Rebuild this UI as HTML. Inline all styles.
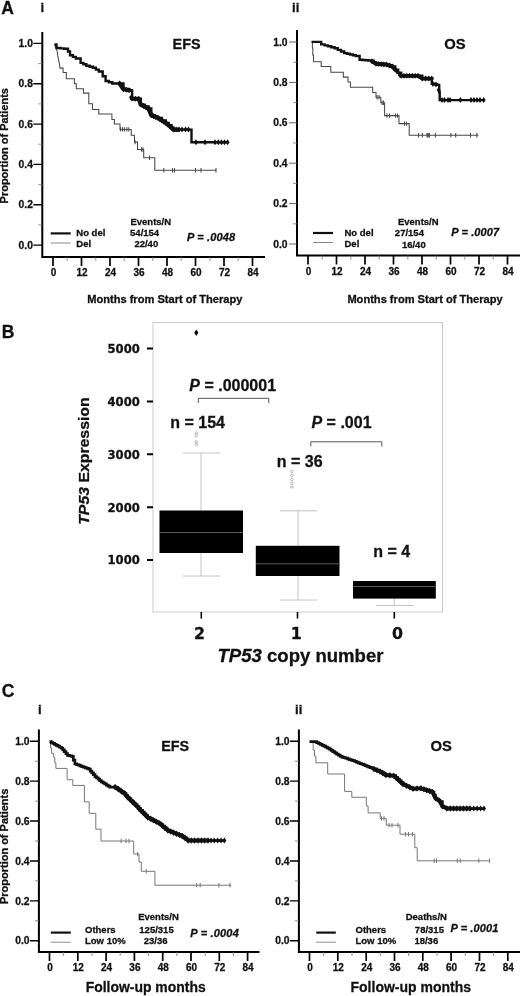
<!DOCTYPE html>
<html lang="en">
<head>
<meta charset="utf-8">
<title>TP53 deletion and expression: survival figure</title>
<style>
html,body{margin:0;padding:0;background:#fff}
body{width:520px;height:996px;overflow:hidden}
svg{display:block}
text{font-family:"Liberation Sans",sans-serif;font-weight:bold;fill:#111;stroke:#111;stroke-width:.28px}
.bk{font-family:"DejaVu Sans","Liberation Sans",sans-serif;font-weight:bold}
.it{font-style:italic}
</style>
</head>
<body>
<svg width="520" height="996" viewBox="0 0 520 996">
<rect width="520" height="996" fill="#fff"/>

<!-- Panel A: TP53 deletion, EFS and OS -->
<text x="1.2" y="13.8" font-size="17.5">A</text>
<text x="40.5" y="12.3" font-size="13.1">i</text>
<text x="292" y="12.3" font-size="13.1">ii</text>
<g>
<path d="M42.3 32V256.9H265" fill="none" stroke="#000" stroke-width="2"/>
<path d="M33.3 43.4H42.3M33.3 83.7H42.3M33.3 124.1H42.3M33.3 164.4H42.3M33.3 204.8H42.3M33.3 245.1H42.3" stroke="#000" stroke-width="1.4"/>
<path d="M38.3 63.6H42.3M38.3 103.9H42.3M38.3 144.2H42.3M38.3 184.6H42.3M38.3 224.9H42.3" stroke="#777" stroke-width="0.8"/>
<path d="M53 256.9V265.9M81.5 256.9V265.9M110 256.9V265.9M138.5 256.9V265.9M167 256.9V265.9M195.5 256.9V265.9M224 256.9V265.9M252.5 256.9V265.9" stroke="#000" stroke-width="1.7"/>
<path d="M67.2 256.9V260.9M95.8 256.9V260.9M124.2 256.9V260.9M152.8 256.9V260.9M181.2 256.9V260.9M209.8 256.9V260.9M238.2 256.9V260.9" stroke="#777" stroke-width="0.8"/>
<g font-size="10.3" text-anchor="end"><text x="32.9" y="47">1.0</text><text x="32.9" y="87.3">0.8</text><text x="32.9" y="127.7">0.6</text><text x="32.9" y="168">0.4</text><text x="32.9" y="208.4">0.2</text><text x="32.9" y="248.7">0.0</text></g>
<g font-size="10" text-anchor="middle"><text x="53.5" y="276">0</text><text x="82" y="276">12</text><text x="110.5" y="276">24</text><text x="139" y="276">36</text><text x="167.5" y="276">48</text><text x="196" y="276">60</text><text x="224.5" y="276">72</text><text x="253" y="276">84</text></g>
<text transform="translate(8.2 203.4) rotate(-90)" font-size="10" textLength="115.3" lengthAdjust="spacingAndGlyphs">Proportion of Patients</text>
<text x="172.6" y="48.8" font-size="14.4">EFS</text>
<path d="M54.4 44.4L55.6 47L56.9 50L58.1 57.5L59.4 63.8L60 68.1H63.1V72.5H66.3V78.8H74.4V83.8H76.3V88.8H83.4V93.1H88.8V103.8H92.5V109.4H98.8V114H111.9V119.4H114.4V124H120V129.4H131.2V135.3H134.5V142.1H137.5V149.5H143.7V157.8H154.8V170.2H216V170.2" fill="none" stroke="#484848" stroke-width="1.05"/>
<path d="M120.6 127.2V131.6M122.5 127.2V131.6M124.4 127.2V131.6M126.9 127.2V131.6M128.8 127.2V131.6M135 139.9V144.3M141.5 147.3V151.7M143 147.3V151.7M149.5 155.6V160M163.8 168V172.4M172.5 168V172.4M174.5 168V172.4M195.5 168V172.4M201 168V172.4M216 168V172.4" fill="none" stroke="#484848" stroke-width="1.05"/>
<path d="M54.6 44.5H56.5V48H60.4V48.4H64.2V48.8H68V51.5H70V55.2H72.9V56.9H75.8V58.5H80.6V62.9H83.4V64.3H86.3V65.8H89.7V66.8H93V67.7H95.9V69.6H98.8V71.5H102.7V76.3H105.6V81H108.9V82.2H112.3V83.5H119.6V83.5H123.5V89.2H126.3V89.7H129.2V90.2H132.1V98.6H135.4V98.7H138.8V98.8H140.8V104.6H144.7V106.5H148.5V108.5H151.3V115.2H154.7V116.6H158V118H161.9V120.5H165.8V122.9H168.7V125.3H171.5V127.7H173.5V129.6H191.5V129.6H191.5V142.3H227.5V142.3" fill="none" stroke="#111" stroke-width="2.4" stroke-linejoin="miter"/>
<path d="M119.6 83.5L123.5 89.2L129.2 90.2" fill="none" stroke="#111" stroke-width="4.3" stroke-linejoin="round" stroke-linecap="round"/><path d="M119.6 80.5L121.6 83.5L119.6 86.5L117.6 83.5ZM121.5 83.3L123.5 86.3L121.5 89.3L119.5 86.3ZM123.5 86.2L125.5 89.2L123.5 92.2L121.5 89.2ZM126.3 86.7L128.3 89.7L126.3 92.7L124.3 89.7ZM129.2 87.2L131.2 90.2L129.2 93.2L127.2 90.2Z" fill="#111"/><path d="M131.5 97.5L132.1 98.6L138.8 98.8L140.8 104.6L148.5 108.5L151.3 115.2L158 118L165.8 122.9L171.5 127.7L173.5 129.6L179 129.6" fill="none" stroke="#111" stroke-width="4.3" stroke-linejoin="round" stroke-linecap="round"/><path d="M131.5 94.5L133.5 97.5L131.5 100.5L129.5 97.5ZM132.1 95.6L134.1 98.6L132.1 101.6L130.1 98.6ZM135.4 95.7L137.4 98.7L135.4 101.7L133.4 98.7ZM138.8 95.8L140.8 98.8L138.8 101.8L136.8 98.8ZM139.8 98.7L141.8 101.7L139.8 104.7L137.8 101.7ZM140.8 101.6L142.8 104.6L140.8 107.6L138.8 104.6ZM143.4 102.9L145.4 105.9L143.4 108.9L141.4 105.9ZM145.9 104.2L147.9 107.2L145.9 110.2L143.9 107.2ZM148.5 105.5L150.5 108.5L148.5 111.5L146.5 108.5ZM149.4 107.7L151.4 110.7L149.4 113.7L147.4 110.7ZM150.4 110L152.4 113L150.4 116L148.4 113ZM151.3 112.2L153.3 115.2L151.3 118.2L149.3 115.2ZM153.5 113.1L155.5 116.1L153.5 119.1L151.5 116.1ZM155.8 114.1L157.8 117.1L155.8 120.1L153.8 117.1ZM158 115L160 118L158 121L156 118ZM159.9 116.2L161.9 119.2L159.9 122.2L157.9 119.2ZM161.9 117.5L163.9 120.5L161.9 123.5L159.9 120.5ZM163.9 118.7L165.9 121.7L163.9 124.7L161.9 121.7ZM165.8 119.9L167.8 122.9L165.8 125.9L163.8 122.9ZM167.7 121.5L169.7 124.5L167.7 127.5L165.7 124.5ZM169.6 123.1L171.6 126.1L169.6 129.1L167.6 126.1ZM171.5 124.7L173.5 127.7L171.5 130.7L169.5 127.7ZM173.5 126.6L175.5 129.6L173.5 132.6L171.5 129.6ZM176.2 126.6L178.2 129.6L176.2 132.6L174.2 129.6ZM179 126.6L181 129.6L179 132.6L177 129.6Z" fill="#111"/><path d="M182 126.6L184 129.6L182 132.6L180 129.6ZM185.5 126.6L187.5 129.6L185.5 132.6L183.5 129.6ZM188.5 126.6L190.5 129.6L188.5 132.6L186.5 129.6ZM196 139.3L198 142.3L196 145.3L194 142.3ZM205 139.3L207 142.3L205 145.3L203 142.3ZM215 139.3L217 142.3L215 145.3L213 142.3ZM218.3 139.3L220.3 142.3L218.3 145.3L216.3 142.3ZM221.4 139.3L223.4 142.3L221.4 145.3L219.4 142.3ZM224.5 139.3L226.5 142.3L224.5 145.3L222.5 142.3ZM227.6 139.3L229.6 142.3L227.6 145.3L225.6 142.3Z" fill="#111"/>
<path d="M50.7 233.4H70.7" stroke="#111" stroke-width="2.2"/><path d="M50.7 243H70.7" stroke="#888" stroke-width="1"/><g font-size="9.5"><text x="76.3" y="236.2">No del</text><text x="76.3" y="247.2">Del</text></g>
<g font-size="9.5" text-anchor="middle"><text x="150.8" y="225">Events/N</text><text x="144.6" y="235.8">54/154</text><text x="146.3" y="247.2">22/40</text></g>
<text x="187" y="241.3" font-size="11" textLength="48"><tspan class="it">P = .0048</tspan></text>
<text x="87.2" y="303" font-size="10.5" textLength="155.2" lengthAdjust="spacingAndGlyphs">Months from Start of Therapy</text>
</g>
<g>
<path d="M297 30V255.6H521" fill="none" stroke="#000" stroke-width="2"/>
<path d="M289 42H297M289 82.4H297M289 122.8H297M289 163.2H297M289 203.6H297M289 244H297" stroke="#555" stroke-width="0.9"/>
<path d="M293 62.2H297M293 102.6H297M293 143H297M293 183.4H297M293 223.8H297" stroke="#777" stroke-width="0.8"/>
<path d="M308 255.6V264.6M336.5 255.6V264.6M365 255.6V264.6M393.5 255.6V264.6M422 255.6V264.6M450.5 255.6V264.6M479 255.6V264.6M507.5 255.6V264.6" stroke="#000" stroke-width="1.7"/>
<path d="M322.2 255.6V259.6M350.8 255.6V259.6M379.2 255.6V259.6M407.8 255.6V259.6M436.2 255.6V259.6M464.8 255.6V259.6M493.2 255.6V259.6" stroke="#777" stroke-width="0.8"/>
<g font-size="10.3" text-anchor="end"><text x="287.6" y="45.6">1.0</text><text x="287.6" y="86">0.8</text><text x="287.6" y="126.4">0.6</text><text x="287.6" y="166.8">0.4</text><text x="287.6" y="207.2">0.2</text><text x="287.6" y="247.6">0.0</text></g>
<g font-size="10" text-anchor="middle"><text x="308.5" y="275.2">0</text><text x="337" y="275.2">12</text><text x="365.5" y="275.2">24</text><text x="394" y="275.2">36</text><text x="422.5" y="275.2">48</text><text x="451" y="275.2">60</text><text x="479.5" y="275.2">72</text><text x="508" y="275.2">84</text></g>
<text x="444.2" y="48.8" font-size="14.8">OS</text>
<path d="M312 42H312.4V48H312.8V55H313.5V61.7H321.2V66.5H330.8V72.3H343.3V77.1H348V81.9H350.4V87.3H372.7V92.5H376V97.3H380.8V102.7H384.6V115.6H399V123.6H409.2V135.3H478.4V135.3" fill="none" stroke="#484848" stroke-width="1.05"/>
<path d="M377 95.1V99.5M379 95.1V99.5M382 100.5V104.9M383.5 100.5V104.9M387 113.4V117.8M389.5 113.4V117.8M395.5 113.4V117.8M397.5 113.4V117.8M404.5 121.4V125.8M406.5 121.4V125.8M418.5 133.1V137.5M422.3 133.1V137.5M427 133.1V137.5M428.2 133.1V137.5M429.4 133.1V137.5M435.4 133.1V137.5M450.9 133.1V137.5M455.7 133.1V137.5M470.5 133.1V137.5M476.9 133.1V137.5" fill="none" stroke="#484848" stroke-width="1.05"/>
<path d="M311.5 41.9H319.2V41.9H321.2V44.4H324.6V45.4H327.9V46.3H331.2V47.3H334.6V48.3H337.8V49.9H341V51.5H344.2V53.1H347.1V53.8H350V54.5H352.9V55.3H355.8V56H359.6V59.8H362.5V60H365.4V60.3H368.3V60.5H371.2V60.8H373.6V62.2H376V63.7H379.5V64H383V64.3H386.5V64.6H389.4V65.5H392.3V66.5H395.3V69.6H398.2V72.7H401.2V75.8H418V75.8H422.3V78.6H431.8V78.6H431.8V83.8H434.5V84.3H437.1V84.9H439.2V92.3H439.7V100.1H483.7V100.1" fill="none" stroke="#111" stroke-width="2.4" stroke-linejoin="miter"/>
<path d="M372 61.3L376 63.7L386.5 64.6L392.3 66.5L395 69.5" fill="none" stroke="#111" stroke-width="4.0" stroke-linejoin="round" stroke-linecap="round"/><path d="M372 58.3L374 61.3L372 64.3L370 61.3ZM376 60.7L378 63.7L376 66.7L374 63.7ZM378.6 60.9L380.6 63.9L378.6 66.9L376.6 63.9ZM381.2 61.2L383.2 64.2L381.2 67.2L379.2 64.2ZM383.9 61.4L385.9 64.4L383.9 67.4L381.9 64.4ZM386.5 61.6L388.5 64.6L386.5 67.6L384.5 64.6ZM389.4 62.5L391.4 65.5L389.4 68.5L387.4 65.5ZM392.3 63.5L394.3 66.5L392.3 69.5L390.3 66.5ZM395 66.5L397 69.5L395 72.5L393 69.5Z" fill="#111"/><path d="M400 75L401.2 75.8L418 75.8L422.3 78.6L431.8 78.6" fill="none" stroke="#111" stroke-width="3.8" stroke-linejoin="round" stroke-linecap="round"/><path d="M400 72L402 75L400 78L398 75ZM401.2 72.8L403.2 75.8L401.2 78.8L399.2 75.8ZM404 72.8L406 75.8L404 78.8L402 75.8ZM406.8 72.8L408.8 75.8L406.8 78.8L404.8 75.8ZM409.6 72.8L411.6 75.8L409.6 78.8L407.6 75.8ZM412.4 72.8L414.4 75.8L412.4 78.8L410.4 75.8ZM415.2 72.8L417.2 75.8L415.2 78.8L413.2 75.8ZM418 72.8L420 75.8L418 78.8L416 75.8ZM422.3 75.6L424.3 78.6L422.3 81.6L420.3 78.6ZM425.5 75.6L427.5 78.6L425.5 81.6L423.5 78.6ZM428.6 75.6L430.6 78.6L428.6 81.6L426.6 78.6ZM431.8 75.6L433.8 78.6L431.8 81.6L429.8 78.6Z" fill="#111"/><path d="M397 68.5L399 71.5L397 74.5L395 71.5ZM433 81L435 84L433 87L431 84ZM436 81.6L438 84.6L436 87.6L434 84.6ZM438.7 87L440.7 90L438.7 93L436.7 90ZM442 97.1L444 100.1L442 103.1L440 100.1ZM444.5 97.1L446.5 100.1L444.5 103.1L442.5 100.1ZM448 97.1L450 100.1L448 103.1L446 100.1ZM450 97.1L452 100.1L450 103.1L448 100.1ZM460.4 97.1L462.4 100.1L460.4 103.1L458.4 100.1ZM471 97.1L473 100.1L471 103.1L469 100.1ZM474 97.1L476 100.1L474 103.1L472 100.1ZM477 97.1L479 100.1L477 103.1L475 100.1ZM480 97.1L482 100.1L480 103.1L478 100.1ZM483.7 97.1L485.7 100.1L483.7 103.1L481.7 100.1Z" fill="#111"/>
<path d="M313 233H333" stroke="#111" stroke-width="2.2"/><path d="M313 242.5H333" stroke="#888" stroke-width="1"/><g font-size="9.5"><text x="344.5" y="236.2">No del</text><text x="344.5" y="247.2">Del</text></g>
<g font-size="9.5" text-anchor="middle"><text x="418.3" y="224.7">Events/N</text><text x="409.4" y="236.2">27/154</text><text x="413.8" y="247.7">16/40</text></g>
<text x="451.3" y="236.3" font-size="11" textLength="47.8"><tspan class="it">P = .0007</tspan></text>
<text x="347.4" y="303" font-size="10.5" textLength="155.2" lengthAdjust="spacingAndGlyphs">Months from Start of Therapy</text>
</g>
<!-- Panel B: TP53 expression by copy number -->
<text x="1.8" y="337.8" font-size="17.5">B</text>
<rect x="153" y="322.5" width="289.5" height="289.5" fill="none" stroke="#ccc" stroke-width="1"/>
<path d="M147 348.6H153M147 401.5H153M147 454.3H153M147 507.2H153M147 560H153" stroke="#000" stroke-width="2"/>
<g class="bk" font-size="11.6" text-anchor="end" stroke="#111" stroke-width="0.45"><text class="bk" x="139.8" y="352.9">5000</text><text class="bk" x="139.8" y="405.8">4000</text><text class="bk" x="139.8" y="458.6">3000</text><text class="bk" x="139.8" y="511.5">2000</text><text class="bk" x="139.8" y="564.3">1000</text></g>
<text transform="translate(89.2 524.8) rotate(-90)" font-size="15" textLength="127.5" lengthAdjust="spacingAndGlyphs"><tspan class="it">TP53</tspan> Expression</text>
<path d="M201 453V576M183 453H220M183 576H220M298 510.8V600M280 510.8H317M280 600H317M394.3 598V605.5M376 605.5H413.8" fill="none" stroke="#c4c4c4" stroke-width="1"/>
<rect x="159.5" y="510.5" width="83.5" height="42.5" fill="#000"/>
<rect x="255.8" y="545.8" width="83.7" height="30.2" fill="#000"/>
<rect x="353" y="581" width="82.8" height="17.6" fill="#000"/>
<path d="M159.5 532.5H243M255.8 563.8H339.5M353 586.5H435.8" stroke="#5a5a5a" stroke-width="1"/>
<path d="M196.3 329.5L198.4 332.7L196.3 335.9L194.2 332.7Z" fill="#000"/>
<g fill="none" stroke="#999" stroke-width="0.7"><circle cx="196.3" cy="433" r="1.2"/><circle cx="196.3" cy="435.6" r="1.2"/><circle cx="196.3" cy="441.8" r="1.2"/><circle cx="196.3" cy="444.4" r="1.2"/><circle cx="291.8" cy="471.5" r="1.2"/><circle cx="291.8" cy="475.5" r="1.2"/><circle cx="291.8" cy="479.5" r="1.2"/><circle cx="291.8" cy="483.5" r="1.2"/><circle cx="291.8" cy="487" r="1.2"/></g>
<path d="M198.3 403V398.3H268.8V403M310.8 446.5V441.8H381.8V446.5" fill="none" stroke="#555" stroke-width="1"/>
<g font-size="16"><text x="189.3" y="390.5"><tspan class="it">P</tspan> = .000001</text><text x="170.3" y="428">n = 154</text><text x="311.5" y="428"><tspan class="it">P</tspan> = .001</text><text x="276.8" y="467">n = 36</text><text x="373.3" y="557">n = 4</text></g>
<path d="M201.3 612V618.5M297.5 612V618.5M394.3 612V618.5" stroke="#000" stroke-width="1.6"/>
<g class="bk" font-size="15" text-anchor="middle" stroke="#111" stroke-width="0.9"><text class="bk" x="199.6" y="638.8" textLength="11" lengthAdjust="spacingAndGlyphs">2</text><text class="bk" x="296.3" y="638.8" textLength="11" lengthAdjust="spacingAndGlyphs">1</text><text class="bk" x="397.5" y="638.8" textLength="11" lengthAdjust="spacingAndGlyphs">0</text></g>
<text x="217.5" y="662" font-size="18.2" textLength="166" lengthAdjust="spacingAndGlyphs"><tspan class="it">TP53</tspan> copy number</text>
<!-- Panel C: low TP53 expression, EFS and OS -->
<text x="1.8" y="696.8" font-size="17.5">C</text>
<text x="37.9" y="714.1" font-size="13.1">i</text>
<text x="295" y="714.1" font-size="13.1">ii</text>
<g>
<path d="M38.9 729.5V952H259.5" fill="none" stroke="#000" stroke-width="2"/>
<path d="M29.9 741.2H38.9M29.9 781.1H38.9M29.9 821H38.9M29.9 861H38.9M29.9 900.9H38.9M29.9 940.8H38.9" stroke="#000" stroke-width="1.4"/>
<path d="M34.9 761.2H38.9M34.9 801.1H38.9M34.9 841H38.9M34.9 880.9H38.9M34.9 920.8H38.9" stroke="#777" stroke-width="0.8"/>
<path d="M49.5 952V961M77.8 952V961M106.1 952V961M134.4 952V961M162.7 952V961M191 952V961M219.3 952V961M247.6 952V961" stroke="#000" stroke-width="1.7"/>
<path d="M63.6 952V956M92 952V956M120.2 952V956M148.6 952V956M176.8 952V956M205.2 952V956M233.5 952V956" stroke="#777" stroke-width="0.8"/>
<g font-size="10.3" text-anchor="end"><text x="29.5" y="744.8">1.0</text><text x="29.5" y="784.7">0.8</text><text x="29.5" y="824.6">0.6</text><text x="29.5" y="864.6">0.4</text><text x="29.5" y="904.5">0.2</text><text x="29.5" y="944.4">0.0</text></g>
<g font-size="10" text-anchor="middle"><text x="50" y="971.3">0</text><text x="78.3" y="971.3">12</text><text x="106.6" y="971.3">24</text><text x="134.9" y="971.3">36</text><text x="163.2" y="971.3">48</text><text x="191.5" y="971.3">60</text><text x="219.8" y="971.3">72</text><text x="248.1" y="971.3">84</text></g>
<text transform="translate(8.2 904) rotate(-90)" font-size="10" textLength="115.3" lengthAdjust="spacingAndGlyphs">Proportion of Patients</text>
<text x="161.2" y="751.3" font-size="14.4">EFS</text>
<path d="M49.5 742.7H50.5V748H51.6V753.3H53.7V757.5H54.8V763H55.9V768.4H67.1V779.7H72.8V785.4H84.4V801.9H89.2V813.3H95.8V829.2H101V841H133.7V854H139V862H141.3V871.3H154.9V885.2H231.3V885.2" stroke="#777" fill="none" stroke-width="1"/>
<path d="M121.2 838.8V843.2M126 838.8V843.2M129 838.8V843.2M137.6 851.8V856.2M146.2 869.1V873.5M196.7 883V887.4M200.2 883V887.4M218.9 883V887.4M229.9 883V887.4" stroke="#777" fill="none" stroke-width="1"/>
<path d="M49.5 741.6H51.2V742.5H52.8V743.4H54.5V744.3H56.2V745.3H57.9V746.2H59.5V747.1H61.2V748H62.8V749.9H64.3V751.7H65.9V753.5H67.5V755.4H69.6V755.9H71.7V756.4H73.3V760.1H74.9V763.8H76.6V764.5H78.4V765.1H80.1V765.8H81.8V766.5H83.5V767.1H85.2V767.8H87V768.4H88.7V769.1H90.3V771H91.8V772.8H93.4V774.6H95V776.5H96.6V777.8H98.2V779.1H99.7V780.5H101.3V781.8H103V782.9H104.7V783.9H106.4V785H108.1V786H109.8V787.1H115.1V787.1H116.7V788.2H118.3V789.2H119.8V790.3H121.4V791.4H123V792.4H124.6V793.5H126V795.4H127.5V797.2H129V798.7H130.6V800.1H132.1V801.6H133.7V803H135.2V804.5H137.1V806.6H139V808.7H140.7V810.4H142.5V812.2H144.2V813.9H146V815.7H147.7V817.4H149.3V818.2H151V819.1H152.6V819.9H154.3V820.7H155.9V821.5H157.6V822.4H159.2V823.2H160.9V824.6H162.7V826.1H164.4V827.5H166.2V829H167.9V830.4H169.7V831.1H171.5V831.8H173.3V832.5H175.1V833.2H176.9V834H178.7V834.7H180.5V835.4H182.3V836.1H184.2V837.6H186.2V839H188.1V840.5H224.1V840.5" fill="none" stroke="#111" stroke-width="2.75" stroke-linejoin="miter"/>
<path d="M115.1 787.1L124.6 793.5L127.5 797.2L135.2 804.5L139 808.7L147.7 817.4L159.2 823.2L167.9 830.4L182.3 836.1L188.1 840.5L208 840.5" fill="none" stroke="#111" stroke-width="4.0" stroke-linejoin="round" stroke-linecap="round"/><path d="M115.1 783.8L117.3 787.1L115.1 790.4L112.9 787.1ZM118.3 785.9L120.5 789.2L118.3 792.5L116.1 789.2ZM121.4 788.1L123.6 791.4L121.4 794.7L119.2 791.4ZM124.6 790.2L126.8 793.5L124.6 796.8L122.4 793.5ZM127.5 793.9L129.7 797.2L127.5 800.5L125.3 797.2ZM130.1 796.3L132.3 799.6L130.1 802.9L127.9 799.6ZM132.6 798.8L134.8 802.1L132.6 805.4L130.4 802.1ZM135.2 801.2L137.4 804.5L135.2 807.8L133 804.5ZM139 805.4L141.2 808.7L139 812L136.8 808.7ZM141.2 807.6L143.4 810.9L141.2 814.2L139 810.9ZM143.3 809.8L145.5 813L143.3 816.3L141.2 813ZM145.5 811.9L147.7 815.2L145.5 818.5L143.3 815.2ZM147.7 814.1L149.9 817.4L147.7 820.7L145.5 817.4ZM150.6 815.6L152.8 818.9L150.6 822.1L148.4 818.9ZM153.4 817L155.6 820.3L153.4 823.6L151.2 820.3ZM156.3 818.5L158.5 821.8L156.3 825L154.1 821.8ZM159.2 819.9L161.4 823.2L159.2 826.5L157 823.2ZM162.1 822.3L164.3 825.6L162.1 828.9L159.9 825.6ZM165 824.7L167.2 828L165 831.3L162.8 828ZM167.9 827.1L170.1 830.4L167.9 833.7L165.7 830.4ZM170.8 828.2L173 831.5L170.8 834.8L168.6 831.5ZM173.7 829.4L175.9 832.7L173.7 836L171.5 832.7ZM176.5 830.5L178.7 833.8L176.5 837.1L174.3 833.8ZM179.4 831.7L181.6 835L179.4 838.3L177.2 835ZM182.3 832.8L184.5 836.1L182.3 839.4L180.1 836.1ZM185.2 835L187.4 838.3L185.2 841.6L183 838.3ZM188.1 837.2L190.3 840.5L188.1 843.8L185.9 840.5ZM191.4 837.2L193.6 840.5L191.4 843.8L189.2 840.5ZM194.7 837.2L196.9 840.5L194.7 843.8L192.5 840.5ZM198.1 837.2L200.2 840.5L198.1 843.8L195.9 840.5ZM201.4 837.2L203.6 840.5L201.4 843.8L199.2 840.5ZM204.7 837.2L206.9 840.5L204.7 843.8L202.5 840.5ZM208 837.2L210.2 840.5L208 843.8L205.8 840.5Z" fill="#111"/><path d="M211 837.5L213 840.5L211 843.5L209 840.5ZM214.2 837.5L216.2 840.5L214.2 843.5L212.2 840.5ZM217.6 837.5L219.6 840.5L217.6 843.5L215.6 840.5ZM221 837.5L223 840.5L221 843.5L219 840.5ZM224.4 837.5L226.4 840.5L224.4 843.5L222.4 840.5Z" fill="#111"/>
<path d="M50.8 932.6H70.8" stroke="#111" stroke-width="2.2"/><path d="M50.8 942.2H70.8" stroke="#888" stroke-width="1"/><g font-size="9.5"><text x="85" y="932.8">Others</text><text x="85" y="943.8">Low 10%</text></g>
<g font-size="9.5" text-anchor="middle"><text x="158.5" y="920.2">Events/N</text><text x="156.5" y="932.8">125/315</text><text x="155.6" y="943.8">23/36</text></g>
<text x="190.3" y="937" font-size="11" textLength="48.5"><tspan class="it">P = .0004</tspan></text>
<text x="85.7" y="992.4" font-size="14.3" textLength="120" lengthAdjust="spacingAndGlyphs">Follow-up months</text>
</g>
<g>
<path d="M298.9 729.5V952H521" fill="none" stroke="#000" stroke-width="2"/>
<path d="M289.9 741.2H298.9M289.9 781.1H298.9M289.9 821H298.9M289.9 861H298.9M289.9 900.9H298.9M289.9 940.8H298.9" stroke="#000" stroke-width="1.4"/>
<path d="M294.9 761.2H298.9M294.9 801.1H298.9M294.9 841H298.9M294.9 880.9H298.9M294.9 920.8H298.9" stroke="#777" stroke-width="0.8"/>
<path d="M309.5 952V961M337.8 952V961M366.2 952V961M394.5 952V961M422.8 952V961M451.1 952V961M479.5 952V961M507.8 952V961" stroke="#000" stroke-width="1.7"/>
<path d="M323.7 952V956M352 952V956M380.3 952V956M408.6 952V956M437 952V956M465.3 952V956M493.6 952V956" stroke="#777" stroke-width="0.8"/>
<g font-size="10.3" text-anchor="end"><text x="289.5" y="744.8">1.0</text><text x="289.5" y="784.7">0.8</text><text x="289.5" y="824.6">0.6</text><text x="289.5" y="864.6">0.4</text><text x="289.5" y="904.5">0.2</text><text x="289.5" y="944.4">0.0</text></g>
<g font-size="10" text-anchor="middle"><text x="310" y="971.3">0</text><text x="338.3" y="971.3">12</text><text x="366.7" y="971.3">24</text><text x="395" y="971.3">36</text><text x="423.3" y="971.3">48</text><text x="451.6" y="971.3">60</text><text x="480" y="971.3">72</text><text x="508.3" y="971.3">84</text></g>
<text x="430.6" y="751.3" font-size="14.8">OS</text>
<path d="M312.7 742.7H313.2V750H314.5V756H315.9V762.8H327.7V774H344.6V791.4H351.8V797.3H366.3V806H368.1V812.9H380.2V818.4H386.3V825.2H400V834.2H414.8V847.7H417.2V860.8H489.6V860.8" stroke="#777" fill="none" stroke-width="1"/>
<path d="M381.5 816.2V820.6M384 816.2V820.6M389 823V827.4M392 823V827.4M398 823V827.4M405.5 832V836.4M408.5 832V836.4M412.5 832V836.4M434.2 858.6V863M436.5 858.6V863M457.3 858.6V863M460.3 858.6V863M478.8 858.6V863M489.6 858.6V863" stroke="#777" fill="none" stroke-width="1"/>
<path d="M309.5 741.6H314.8V741.6H316.6V742.5H318.4V743.4H320.2V744.3H322.1V745.3H323.9V746.2H325.7V747.1H327.5V748H329.3V749.2H331.1V750.4H332.9V751.6H334.8V752.8H336.6V754H338.4V755.2H340.2V756.4H342V757H343.8V757.6H345.6V758.2H347.5V758.9H349.3V759.5H351.1V760.1H352.9V760.7H354.7V761.4H356.4V762.1H358.2V762.8H360V763.5H361.7V764.2H363.5V764.9H365.2V765.6H367V766.3H368.8V767H370.5V767.7H372.2V768.4H374V769.1H375.5V769.7H377V770.3H378.5V770.9H380V771.5H381.9V772.7H383.9V773.8H385.8V775H387.4V775.1H389V775.3H390.6V775.4H392.2V775.6H393.8V775.7H395.7V777.4H397.5V779.1H399.4V780.8H401.2V782.5H403.1V784.2H404.8V785H406.4V785.7H408.1V786.5H409.7V787.3H411.4V788H413V788.8H414.6V788.7H416.2V788.6H417.8V788.5H419.4V788.4H421V788.3H422.6V788.8H424.3V789.4H425.9V789.9H427.6V790.4H429.2V790.9H430.9V791.5H432.5V792H433.9V795H435.4V798.1H436.9V799.2H438.5V800.4H440V801.5H442.3V806.2H443.8V807H445.4V807.7H446.9V808.5H483.8V808.5" fill="none" stroke="#111" stroke-width="2.75" stroke-linejoin="miter"/>
<path d="M374 769.1L380 771.5L385.8 775L393.8 775.7L403.1 784.2L413 788.8L421 788.3L432.5 792L435.4 798.1L440 801.5L442.3 806.2L446.9 808.5L470 808.5" fill="none" stroke="#111" stroke-width="4.0" stroke-linejoin="round" stroke-linecap="round"/><path d="M374 765.8L376.2 769.1L374 772.4L371.8 769.1ZM377 767L379.2 770.3L377 773.6L374.8 770.3ZM380 768.2L382.2 771.5L380 774.8L377.8 771.5ZM382.9 770L385.1 773.2L382.9 776.5L380.7 773.2ZM385.8 771.7L388 775L385.8 778.3L383.6 775ZM389.8 772.1L392 775.4L389.8 778.6L387.6 775.4ZM393.8 772.4L396 775.7L393.8 779L391.6 775.7ZM396.1 774.5L398.3 777.8L396.1 781.1L393.9 777.8ZM398.5 776.7L400.7 780L398.5 783.2L396.3 780ZM400.8 778.8L403 782.1L400.8 785.4L398.6 782.1ZM403.1 780.9L405.3 784.2L403.1 787.5L400.9 784.2ZM406.4 782.4L408.6 785.7L406.4 789L404.2 785.7ZM409.7 784L411.9 787.3L409.7 790.6L407.5 787.3ZM413 785.5L415.2 788.8L413 792.1L410.8 788.8ZM417 785.2L419.2 788.5L417 791.8L414.8 788.5ZM421 785L423.2 788.3L421 791.6L418.8 788.3ZM423.9 785.9L426.1 789.2L423.9 792.5L421.7 789.2ZM426.8 786.9L428.9 790.1L426.8 793.4L424.6 790.1ZM429.6 787.8L431.8 791.1L429.6 794.4L427.4 791.1ZM432.5 788.7L434.7 792L432.5 795.3L430.3 792ZM433.9 791.8L436.1 795L433.9 798.3L431.8 795ZM435.4 794.8L437.6 798.1L435.4 801.4L433.2 798.1ZM440 798.2L442.2 801.5L440 804.8L437.8 801.5ZM442.3 802.9L444.5 806.2L442.3 809.5L440.1 806.2ZM446.9 805.2L449.1 808.5L446.9 811.8L444.7 808.5ZM450.2 805.2L452.4 808.5L450.2 811.8L448 808.5ZM453.5 805.2L455.7 808.5L453.5 811.8L451.3 808.5ZM456.8 805.2L459 808.5L456.8 811.8L454.6 808.5ZM460.1 805.2L462.3 808.5L460.1 811.8L457.9 808.5ZM463.4 805.2L465.6 808.5L463.4 811.8L461.2 808.5ZM466.7 805.2L468.9 808.5L466.7 811.8L464.5 808.5ZM470 805.2L472.2 808.5L470 811.8L467.8 808.5Z" fill="#111"/><path d="M473.8 805.5L475.8 808.5L473.8 811.5L471.8 808.5ZM477.2 805.5L479.2 808.5L477.2 811.5L475.2 808.5ZM480.6 805.5L482.6 808.5L480.6 811.5L478.6 808.5ZM484 805.5L486 808.5L484 811.5L482 808.5Z" fill="#111"/>
<path d="M316.3 932.6H335.8" stroke="#111" stroke-width="2.2"/><path d="M316.3 942.2H335.8" stroke="#888" stroke-width="1"/><g font-size="9.5"><text x="355.5" y="932.8">Others</text><text x="355.5" y="943.8">Low 10%</text></g>
<g font-size="9.5" text-anchor="middle"><text x="426.3" y="920.2">Deaths/N</text><text x="429.4" y="932.8">78/315</text><text x="426.3" y="943.8">18/36</text></g>
<text x="450.5" y="932" font-size="11" textLength="47.8"><tspan class="it">P = .0001</tspan></text>
<text x="350.5" y="992.4" font-size="14.3" textLength="120.5" lengthAdjust="spacingAndGlyphs">Follow-up months</text>
</g>
</svg>
</body>
</html>
